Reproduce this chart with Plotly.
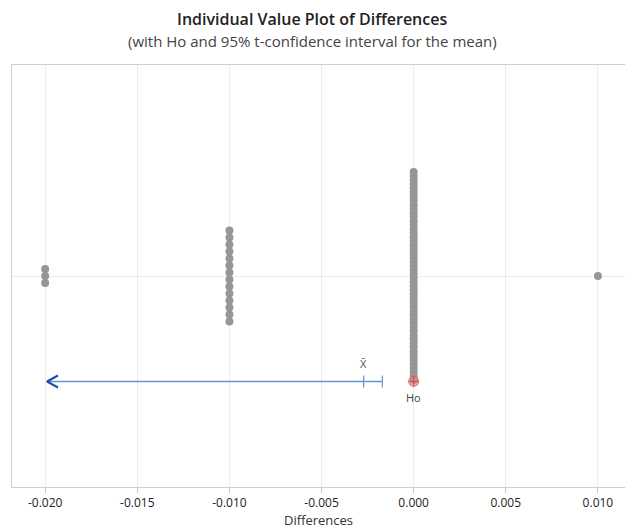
import plotly.graph_objects as go

# Observed differences and how many times each value occurs
diff_values = [-0.020, -0.010, 0.000, 0.010]
diff_counts = [3, 14, 52, 1]

# Hypothesised mean and one-sided 95% t upper bound for the mean
h0_value = 0.0
ci_upper = -0.0017

tick_values = [-0.020, -0.015, -0.010, -0.005, 0.000, 0.005, 0.010]
tick_labels = ["-0.020", "-0.015", "-0.010", "-0.005", "0.000", "0.005", "0.010"]

n_total = sum(diff_counts)
mean_diff = sum(v * c for v, c in zip(diff_values, diff_counts)) / n_total

# plot geometry (pixels) used to stack tied values around the centre line
PLOT_H = 422
DOT_STEP_PX = 7.0
MAX_SPAN_PX = 208.0
CENTER_Y = 0.5
CI_Y = 0.25
PX_PER_UNIT = 18.43 / 0.001

xs, ys = [], []
for v, c in zip(diff_values, diff_counts):
    step = DOT_STEP_PX
    if c > 1 and step * (c - 1) > MAX_SPAN_PX:
        step = MAX_SPAN_PX / (c - 1)
    step /= PLOT_H
    for i in range(c):
        xs.append(v)
        ys.append(CENTER_Y + (i - (c - 1) / 2) * step)

fig = go.Figure()

fig.add_trace(go.Scatter(
    x=xs, y=ys, mode="markers",
    marker=dict(size=8, color="#969696", line=dict(width=0)),
    hoverinfo="x", showlegend=False,
))

# confidence interval line: open arrow on the left, bar at the upper bound
x_left = -0.0199
blue = "#6494d6"
fig.add_trace(go.Scatter(
    x=[x_left, ci_upper], y=[CI_Y, CI_Y], mode="lines",
    line=dict(color=blue, width=1.5), hoverinfo="skip", showlegend=False,
))
arm_dx = 11 / PX_PER_UNIT
arm_dy = 6 / PLOT_H
fig.add_trace(go.Scatter(
    x=[x_left + arm_dx, x_left, x_left + arm_dx],
    y=[CI_Y + arm_dy, CI_Y, CI_Y - arm_dy], mode="lines",
    line=dict(color="#1f4f9e", width=2), hoverinfo="skip", showlegend=False,
))
bar_dy = 6 / PLOT_H
for xv in (ci_upper, mean_diff):
    fig.add_trace(go.Scatter(
        x=[xv, xv], y=[CI_Y - bar_dy, CI_Y + bar_dy], mode="lines",
        line=dict(color=blue, width=1.2), hoverinfo="skip", showlegend=False,
    ))

# hypothesised value
fig.add_trace(go.Scatter(
    x=[h0_value], y=[CI_Y], mode="markers",
    marker=dict(size=10, color="rgba(232,130,130,0.7)",
                line=dict(color="rgba(215,90,90,0.8)", width=1)),
    hoverinfo="skip", showlegend=False,
))
fig.add_trace(go.Scatter(
    x=[h0_value], y=[CI_Y], mode="markers",
    marker=dict(size=7, symbol="cross-thin", line=dict(color="rgba(200,70,70,0.8)", width=1)),
    hoverinfo="skip", showlegend=False,
))

fig.add_annotation(x=mean_diff, y=CI_Y + 18 / PLOT_H, text="X̄", showarrow=False,
                   font=dict(size=11, color="#555555"), xref="x", yref="y")
fig.add_annotation(x=h0_value, y=CI_Y - 16 / PLOT_H, text="Ho", showarrow=False,
                   font=dict(size=11, color="#444444"), xref="x", yref="y")

fig.update_layout(
    width=625, height=530,
    margin=dict(l=12, r=0, t=65, b=43),
    paper_bgcolor="white", plot_bgcolor="white",
    font=dict(family="Open Sans, Noto Sans, sans-serif", color="#333333"),
    xaxis=dict(
        range=[-0.0218, 0.01147],
        tickvals=tick_values, ticktext=tick_labels,
        tickfont=dict(size=12, color="#222222"),
        ticks="outside", ticklen=5, tickcolor="#c8c8c8",
        showgrid=True, gridcolor="#ececec", gridwidth=1,
        zeroline=False,
        showline=True, linecolor="#cfcfcf", linewidth=1, mirror=True,
        title=dict(text="Differences", font=dict(size=13, color="#333333"), standoff=4),
    ),
    yaxis=dict(
        range=[0, 1], showticklabels=False, ticks="",
        tickvals=[CENTER_Y], showgrid=True, gridcolor="#ececec",
        zeroline=False,
        showline=True, linecolor="#cfcfcf", linewidth=1, mirror=False,
    ),
)

title_x = (312 - 12) / 613
fig.add_annotation(
    text="Individual Value Plot of Differences",
    x=title_x, xref="paper", y=1, yref="paper", yshift=46, yanchor="middle",
    xanchor="center", showarrow=False,
    font=dict(size=16, color="#222222", weight=600),
)
fig.add_annotation(
    text="(with Ho and 95% t-confidence interval for the mean)",
    x=title_x, xref="paper", y=1, yref="paper", yshift=24, yanchor="middle",
    xanchor="center", showarrow=False,
    font=dict(size=15, color="#444444"),
)

fig.write_html("out.html")
